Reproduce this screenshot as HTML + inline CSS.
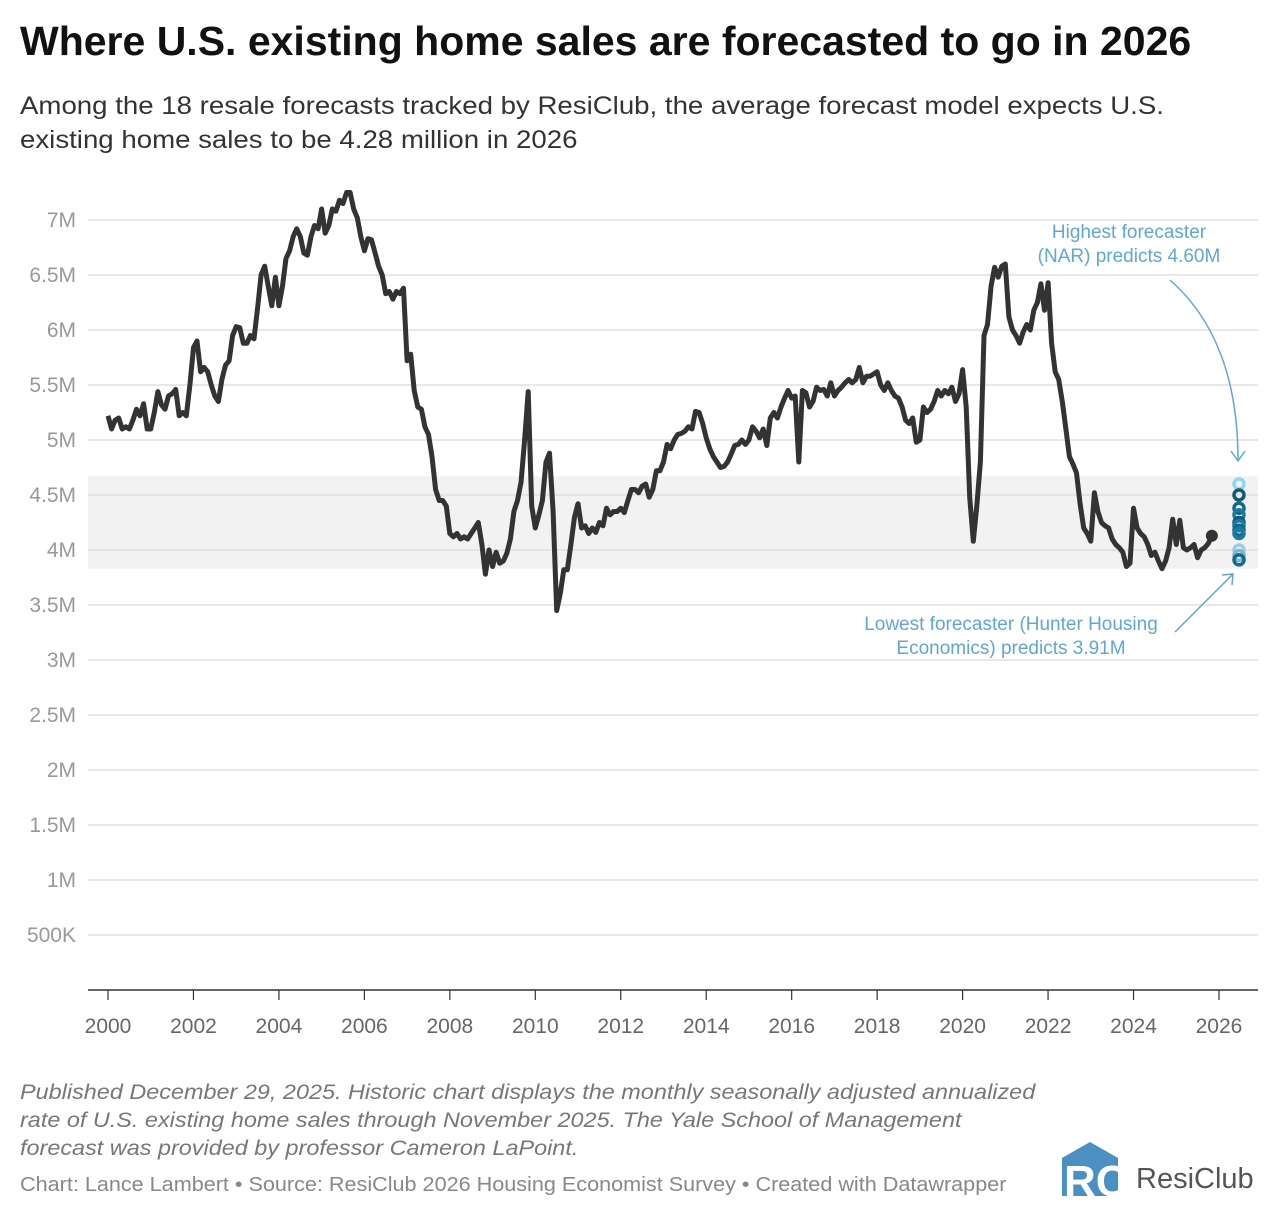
<!DOCTYPE html>
<html><head><meta charset="utf-8"><style>
body{margin:0;background:#fff;font-family:"Liberation Sans",sans-serif;width:1280px;height:1220px;overflow:hidden;position:relative}
.t{position:absolute;left:20px;top:18px;font-size:41px;font-weight:bold;color:#111;white-space:nowrap}
.s{position:absolute;left:20px;top:89px;font-size:25px;line-height:34px;color:#333;white-space:nowrap;transform:scaleX(1.105);transform-origin:0 0}
.n{position:absolute;left:20px;top:1079px;font-size:21px;font-style:italic;color:#777;line-height:28px;white-space:nowrap;transform:scaleX(1.115);transform-origin:0 0}
.c{position:absolute;left:20px;top:1174px;font-size:20px;color:#888;white-space:nowrap;transform:scaleX(1.08);transform-origin:0 0}
svg{position:absolute;left:0;top:0}
</style></head><body>
<div class="t">Where U.S. existing home sales are forecasted to go in 2026</div>
<div class="s">Among the 18 resale forecasts tracked by ResiClub, the average forecast model expects U.S.<br>existing home sales to be 4.28 million in 2026</div>
<svg id="ch" width="1280" height="1220"></svg>
<div class="n">Published December 29, 2025. Historic chart displays the monthly seasonally adjusted annualized<br>rate of U.S. existing home sales through November 2025. The Yale School of Management<br>forecast was provided by professor Cameron LaPoint.</div>
<div class="c">Chart: Lance Lambert • Source: ResiClub 2026 Housing Economist Survey • Created with Datawrapper</div>
<svg width="210" height="60" style="left:1062px;top:1140px">
<polygon points="0,18 28,2 56,18 56,56 0,56" fill="#4a90c2"/>
<text x="2" y="56" font-size="44" font-weight="bold" fill="#fff" font-family="Liberation Sans">RC</text>
<text x="74" y="48" font-size="29" fill="#555" font-family="Liberation Sans">ResiClub</text>
</svg>
<script>
const yTicks=[0.5,1,1.5,2,2.5,3,3.5,4,4.5,5,5.5,6,6.5,7];
const yTickLabels=["500K","1M","1.5M","2M","2.5M","3M","3.5M","4M","4.5M","5M","5.5M","6M","6.5M","7M"];
const xTicks=[2000,2002,2004,2006,2008,2010,2012,2014,2016,2018,2020,2022,2024,2026];
const sales=[
5.22,5.10,5.18,5.20,5.10,5.12,5.10,5.18,5.28,5.22,5.33,5.10,
5.10,5.25,5.44,5.32,5.28,5.40,5.42,5.46,5.22,5.25,5.22,5.50,
5.84,5.90,5.62,5.66,5.62,5.50,5.40,5.35,5.55,5.68,5.72,5.95,
6.03,6.02,5.88,5.88,5.95,5.92,6.20,6.50,6.58,6.40,6.22,6.48,
6.22,6.40,6.65,6.72,6.85,6.92,6.85,6.70,6.68,6.85,6.95,6.92,
7.10,6.88,6.95,7.10,7.08,7.18,7.15,7.25,7.25,7.10,7.02,6.85,
6.72,6.83,6.82,6.70,6.58,6.50,6.33,6.35,6.28,6.35,6.33,6.38,
5.72,5.78,5.45,5.30,5.28,5.12,5.05,4.85,4.55,4.45,4.45,4.40,
4.15,4.12,4.15,4.10,4.12,4.10,4.15,4.20,4.25,4.05,3.78,4.00,
3.85,3.98,3.88,3.90,3.97,4.10,4.35,4.45,4.62,5.00,5.44,4.40,
4.20,4.32,4.45,4.80,4.88,4.35,3.45,3.60,3.82,3.82,4.05,4.30,
4.42,4.20,4.22,4.15,4.20,4.16,4.25,4.22,4.38,4.32,4.35,4.35,
4.38,4.34,4.45,4.55,4.55,4.52,4.58,4.60,4.48,4.55,4.72,4.72,
4.80,4.96,4.92,5.00,5.05,5.06,5.08,5.12,5.10,5.26,5.25,5.15,
5.02,4.92,4.85,4.80,4.75,4.76,4.80,4.87,4.95,4.96,5.00,4.96,
5.00,5.12,5.08,5.02,5.10,4.95,5.20,5.25,5.20,5.30,5.38,5.45,
5.38,5.40,4.80,5.45,5.43,5.30,5.35,5.48,5.45,5.46,5.40,5.52,
5.40,5.45,5.48,5.52,5.55,5.52,5.55,5.66,5.52,5.58,5.58,5.60,
5.62,5.50,5.45,5.52,5.45,5.40,5.38,5.30,5.18,5.15,5.20,4.98,
5.00,5.30,5.25,5.28,5.35,5.45,5.40,5.45,5.42,5.48,5.35,5.42,
5.64,5.30,4.48,4.08,4.40,4.80,5.95,6.05,6.40,6.57,6.48,6.58,
6.60,6.12,6.00,5.95,5.88,5.98,6.05,6.00,6.18,6.25,6.42,6.18,
6.43,5.88,5.62,5.55,5.35,5.10,4.85,4.78,4.70,4.42,4.20,4.15,
4.08,4.52,4.35,4.25,4.22,4.20,4.10,4.05,4.02,3.98,3.85,3.88,
4.38,4.20,4.15,4.12,4.05,3.95,3.98,3.90,3.83,3.90,4.02,4.28,
4.05,4.27,4.02,4.00,4.02,4.05,3.93,4.00,4.02,4.06,4.13];
const forecasts=[4.60,4.50,4.38,4.32,4.25,4.22,4.18,4.15,4.00,3.95,3.91];
const bandLow=3.83, bandHigh=4.67;
const ns="http://www.w3.org/2000/svg", svg=document.getElementById('ch');
const X=y=>108+(y-2000)*42.73, Y=v=>990-v*110;
function mk(t,a,p){const e=document.createElementNS(ns,t);for(const k in a)e.setAttribute(k,a[k]);(p||svg).appendChild(e);return e;}
const band=mk('rect',{x:88,y:Y(bandHigh),width:1170,height:Y(bandLow)-Y(bandHigh),fill:'#f2f2f2'});


yTicks.forEach((v,i)=>{
 const g=mk('line',{x1:88,x2:1258,y1:Y(v),y2:Y(v),stroke:'#e0e0e0','stroke-width':1.5});
 
 
 const t=mk('text',{x:76,y:Y(v)+7,'text-anchor':'end','font-size':21,fill:'#999'});
 t.textContent=yTickLabels[i];
 
 
});
const ax=mk('line',{x1:88,x2:1258,y1:990,y2:990,stroke:'#333','stroke-width':1.5});


xTicks.forEach(yr=>{
 mk('line',{x1:X(yr),x2:X(yr),y1:990,y2:1000,stroke:'#333','stroke-width':1.2});
 const t=mk('text',{x:X(yr),y:1033,'text-anchor':'middle','font-size':21,fill:'#666'});
 t.textContent=yr;
 
 
});
let d='';sales.forEach((v,i)=>{d+=(i?'L':'M')+X(2000+i/12).toFixed(1)+','+Y(v).toFixed(1);});
const ln=mk('path',{d:d,fill:'none',stroke:'#333','stroke-width':5,'stroke-linejoin':'round'});


const last=sales.length-1;
const ld=mk('circle',{cx:X(2000+last/12),cy:Y(sales[last]),r:6,fill:'#333'});


const cols=['#8fd6f0','#0d5a7a','#12688d','#1a7aa0','#0d5a7a','#1a7aa0','#12688d','#1a7aa0','#9ccbe2','#7ab5d2','#12688d'];
forecasts.forEach((v,i)=>{
 const c=mk('circle',{cx:1239,cy:Y(v),r:5,fill:'none',stroke:cols[i],'stroke-width':3.5});
 
 
});
const ac='#5fa8d3';
function txt(x,y,s,nm){const t=mk('text',{x:x,y:y,'text-anchor':'middle','font-size':19,fill:ac});t.textContent=s;}
txt(1129,238,'Highest forecaster','highest-annotation');
txt(1129,262,'(NAR) predicts 4.60M','highest-annotation');
txt(1011,630,'Lowest forecaster (Hunter Housing','lowest-annotation');
txt(1011,654,'Economics) predicts 3.91M','lowest-annotation');
mk('path',{d:'M1170,280 Q1238,340 1238,460',fill:'none',stroke:ac,'stroke-width':1.5});
mk('path',{d:'M1231,451 L1238,461 L1245,451',fill:'none',stroke:ac,'stroke-width':1.5});
mk('path',{d:'M1175,632 L1233,574',fill:'none',stroke:ac,'stroke-width':1.5});
mk('path',{d:'M1222,575 L1233,574 L1232,585',fill:'none',stroke:ac,'stroke-width':1.5});
</script>
</body></html>
